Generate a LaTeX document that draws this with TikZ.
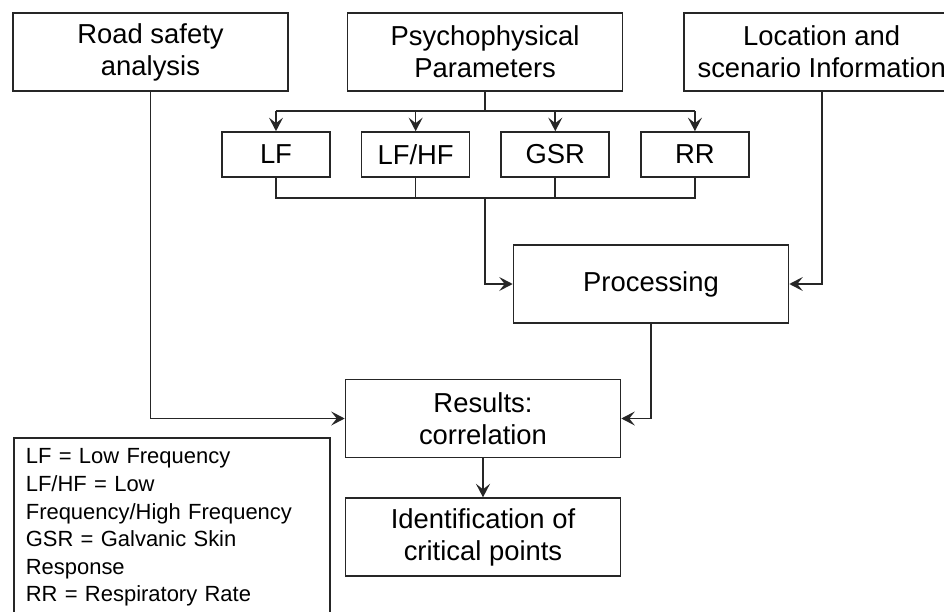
\documentclass[tikz,border=0pt]{standalone}
\usepackage{fontspec}
\setmainfont{Liberation Sans}
\usepackage{tikz}
\usetikzlibrary{arrows.meta,calc,positioning}
\definecolor{cLine}{HTML}{262626}

\begin{document}
\begin{tikzpicture}[x=0.02cm, y=-0.02cm, >=Stealth,
  box/.style={draw=cLine, line width=0.95pt, align=center, inner sep=0pt,
              minimum width=5.5cm, minimum height=1.56cm,
              font=\fontsize{15.6}{18.2}\selectfont},
  sig/.style={box, minimum width=2.16cm, minimum height=0.9cm},
  legend/.style={draw=cLine, line width=0.95pt, align=left, anchor=north west,
                 text width=5.84cm, inner xsep=0.24cm, inner ysep=0.22cm,
                 font=\fontsize{12.5}{15.7}\selectfont},
  ln/.style={draw=cLine, line width=0.95pt},
  ar/.style={ln, -{Stealth[length=2.7mm, width=2.8mm, inset=1.1mm]}}]

  \useasboundingbox (0,0) rectangle (944,612);

  % Top row: the three sources
  \node[box] (road) at (150.5,52) {Road safety\\analysis};
  \node[box, right=1.16cm of road] (psych) {Psychophysical\\Parameters};
  \node[box, right=1.2cm of psych] (loc) {Location and\\scenario Information};

  % Signals taken from the psychophysical parameters
  \node[sig] (lf) at (276,154.5) {LF};
  \node[sig, right=0.6cm of lf] (lfhf) {LF/HF};
  \node[sig, right=0.6cm of lfhf] (gsr) {GSR};
  \node[sig, right=0.6cm of gsr] (rr) {RR};

  % Processing and results
  \node[box] (proc) at (651,284) {Processing};
  \node[box] (res) at (483,418.5) {Results:\\correlation};
  \node[box, below=0.78cm of res] (ident) {Identification of\\critical points};

  % Legend (runs off the bottom edge)
  \node[legend] (key) at (13,437)
     {LF = Low Frequency\\
      LF/HF = Low\\
      Frequency/High Frequency\\
      GSR = Galvanic Skin\\
      Response\\
      RR = Respiratory Rate};

  % fork to the signals
  \coordinate (fork) at (psych.south |- 0,111);
  \draw[ln] (psych.south) -- (fork);
  \draw[ln] (lf |- fork) -- (rr |- fork);
  \draw[ar] (lf |- fork) -- (lf); \draw[ar] (lfhf |- fork) -- (lfhf);
  \draw[ar] (gsr |- fork) -- (gsr); \draw[ar] (rr |- fork) -- (rr);

  % join of the signals into processing
  \coordinate (join) at (psych.south |- 0,198);
  \draw[ln] (lf.south) |- (rr.south |- join) -- (rr.south);
  \draw[ln] (lfhf.south) -- (lfhf.south |- join);
  \draw[ln] (gsr.south) -- (gsr.south |- join);
  \draw[ar] (join) |- (proc.west);

  \draw[ar] (loc.south) |- (proc.east);
  \draw[ar] (road.south) |- (res.west);
  \draw[ar] (proc.south) |- (res.east);
  \draw[ar] (res) -- (ident);
\end{tikzpicture}
\end{document}
